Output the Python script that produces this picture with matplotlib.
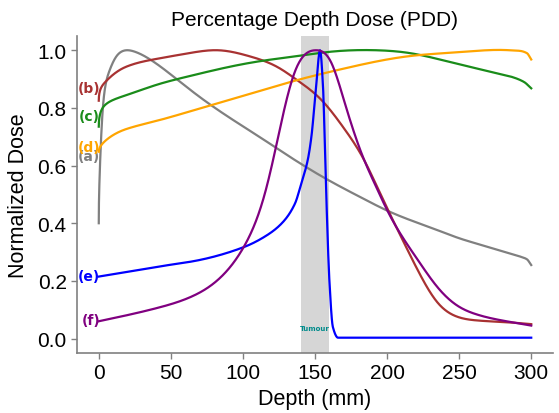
import matplotlib
matplotlib.use("Agg")
import matplotlib.pyplot as plt
import numpy as np

# Depth (mm) and normalized dose for each curve
a_x = [0, 1, 3, 7.5, 12.4, 19, 25, 35, 54, 70, 92, 115, 125, 157, 184, 200, 235, 250, 275, 292, 297, 300]
a_y = [0.40, 0.62, 0.81, 0.93, 0.98, 1.0, 0.995, 0.97, 0.90, 0.838, 0.762, 0.688, 0.655, 0.556, 0.484, 0.444, 0.376, 0.348, 0.31, 0.285, 0.275, 0.255]

b_x = [0, 0.7, 5.5, 16.5, 40, 62.6, 83, 104, 124.6, 138, 154, 170, 184, 195.5, 210, 221, 235, 248, 262, 285, 300]
b_y = [0.825, 0.857, 0.895, 0.937, 0.97, 0.99, 1.0, 0.98, 0.94, 0.895, 0.83, 0.73, 0.62, 0.50, 0.35, 0.24, 0.125, 0.077, 0.063, 0.056, 0.05]

c_x = [0, 1, 5.5, 16.5, 40, 62.6, 92, 115.6, 138, 159, 193, 216, 239, 262, 285, 295, 300]
c_y = [0.735, 0.78, 0.815, 0.84, 0.88, 0.91, 0.944, 0.965, 0.98, 0.994, 1.0, 0.99, 0.965, 0.937, 0.91, 0.89, 0.868]

d_x = [0, 1, 5.5, 16.5, 40, 62.6, 92, 115.6, 138, 170.5, 216, 239.5, 262, 285, 292, 297, 300]
d_y = [0.648, 0.665, 0.69, 0.722, 0.755, 0.787, 0.83, 0.865, 0.897, 0.937, 0.98, 0.99, 0.998, 1.0, 0.998, 0.99, 0.968]

e_x = [0, 42, 69.5, 100.5, 115.6, 127, 136, 140.6, 145, 147.5, 150.7, 153.5, 155.5, 157.6, 160, 162.4, 166, 200, 250, 300]
e_y = [0.215, 0.25, 0.272, 0.317, 0.355, 0.40, 0.467, 0.54, 0.62, 0.70, 0.87, 1.0, 0.88, 0.53, 0.2, 0.04, 0.003, 0.003, 0.003, 0.003]

f_x = [0, 42, 65, 88, 100.5, 115.6, 122.5, 129.4, 136, 143, 150.5, 161, 170.5, 181.7, 193, 200, 221, 235, 248.5, 262, 285, 300]
f_y = [0.06, 0.108, 0.147, 0.23, 0.317, 0.51, 0.655, 0.81, 0.925, 0.985, 1.0, 0.96, 0.82, 0.65, 0.52, 0.446, 0.275, 0.178, 0.115, 0.084, 0.058, 0.045]

series = [
    ("(a)", a_x, a_y, "gray", 0.634, "build", 275),
    ("(b)", b_x, b_y, "#a83232", 0.868, "build", 400),
    ("(c)", c_x, c_y, "#1a8c1a", 0.773, "build", 285),
    ("(d)", d_x, d_y, "orange", 0.666, "build", 285),
    ("(e)", e_x, e_y, "blue", 0.216, "pchip", 0),
    ("(f)", f_x, f_y, "purple", 0.066, "spline", 400),
]

tumour_start, tumour_end = 140, 160


def pchip(xs, ys, xx):
    h = np.diff(xs)
    delta = np.diff(ys) / h
    m = np.zeros_like(ys)
    for k in range(1, len(xs) - 1):
        if delta[k - 1] * delta[k] > 0:
            w1 = 2 * h[k] + h[k - 1]
            w2 = h[k] + 2 * h[k - 1]
            m[k] = (w1 + w2) / (w1 / delta[k - 1] + w2 / delta[k])
    m[0] = delta[0]
    m[-1] = delta[-1]
    idx = np.clip(np.searchsorted(xs, xx) - 1, 0, len(xs) - 2)
    t = (xx - xs[idx]) / h[idx]
    h00 = 2 * t**3 - 3 * t**2 + 1
    h10 = t**3 - 2 * t**2 + t
    h01 = -2 * t**3 + 3 * t**2
    h11 = t**3 - t**2
    return h00 * ys[idx] + h10 * h[idx] * m[idx] + h01 * ys[idx + 1] + h11 * h[idx] * m[idx + 1]


def natural_spline(xs, ys, xx):
    n = len(xs)
    h = np.diff(xs)
    A = np.zeros((n, n))
    r = np.zeros(n)
    A[0, 0] = 1
    A[-1, -1] = 1
    for i in range(1, n - 1):
        A[i, i - 1] = h[i - 1]
        A[i, i] = 2 * (h[i - 1] + h[i])
        A[i, i + 1] = h[i]
        r[i] = 6 * ((ys[i + 1] - ys[i]) / h[i] - (ys[i] - ys[i - 1]) / h[i - 1])
    M = np.linalg.solve(A, r)
    idx = np.clip(np.searchsorted(xs, xx) - 1, 0, n - 2)
    x0, x1 = xs[idx], xs[idx + 1]
    hi = h[idx]
    return (M[idx] * (x1 - xx) ** 3 / (6 * hi) + M[idx + 1] * (xx - x0) ** 3 / (6 * hi)
            + (ys[idx] / hi - M[idx] * hi / 6) * (x1 - xx)
            + (ys[idx + 1] / hi - M[idx + 1] * hi / 6) * (xx - x0))


def warp(x):
    # stretch the build-up region so the spline follows the steep start smoothly
    x = np.asarray(x, dtype=float)
    return np.where(x < 20, 2 * np.sqrt(20 * np.clip(x, 0, None)), x + 20)


plt.rcParams['font.family'] = ['Liberation Sans', 'DejaVu Sans']
fig = plt.figure(figsize=(5.59, 4.14), dpi=100)
ax = fig.add_axes([0.138, 0.145, 0.851, 0.766])

ax.axvspan(tumour_start, tumour_end, color="#d6d6d6", zorder=0, lw=0)
ax.text((tumour_start + tumour_end) / 2, 0.035, "Tumour", color="darkcyan",
        fontsize=5, fontweight="bold", family="DejaVu Sans", ha="center", va="center")

for label, xs, ys, col, ly, kind, tail in series:
    xs = np.array(xs, dtype=float)
    ys = np.array(ys, dtype=float)
    xx = np.unique(np.concatenate([np.linspace(0, 20, 800), np.linspace(20, xs[-1], 1600)]))
    if kind == "pchip":
        yy = pchip(xs, ys, xx)
    elif kind == "build":
        yy = natural_spline(warp(xs), ys, warp(xx))
        yt = pchip(xs, ys, xx)
        yy = np.where(xx >= tail, yt, yy)
    else:
        yy = natural_spline(xs, ys, xx)
    ax.plot(xx, yy, color=col, lw=1.6, zorder=2)
    ax.text(1, ly, label, color=col, fontsize=10, fontweight="bold",
            family="DejaVu Sans", ha="right", va="center")

ax.set_xlim(-15, 315)
ax.set_ylim(-0.05, 1.05)
ax.set_xticks([0, 50, 100, 150, 200, 250, 300])
ax.set_yticks([0.0, 0.2, 0.4, 0.6, 0.8, 1.0])
ax.set_yticklabels(["0.0", "0.2", "0.4", "0.6", "0.8", "1.0"])

for s in ["top", "right"]:
    ax.spines[s].set_visible(False)
for s in ["left", "bottom"]:
    ax.spines[s].set_color("#808080")
    ax.spines[s].set_linewidth(1.2)
ax.tick_params(axis="both", colors="#808080", labelcolor="black", labelsize=15, length=4, width=1)

ax.set_title("Percentage Depth Dose (PDD)", fontsize=15, pad=8)
ax.set_xlabel("Depth (mm)", fontsize=15.5, labelpad=4)
ax.set_ylabel("Normalized Dose", fontsize=15.5, labelpad=6)

fig.savefig("out.png", dpi=100)
